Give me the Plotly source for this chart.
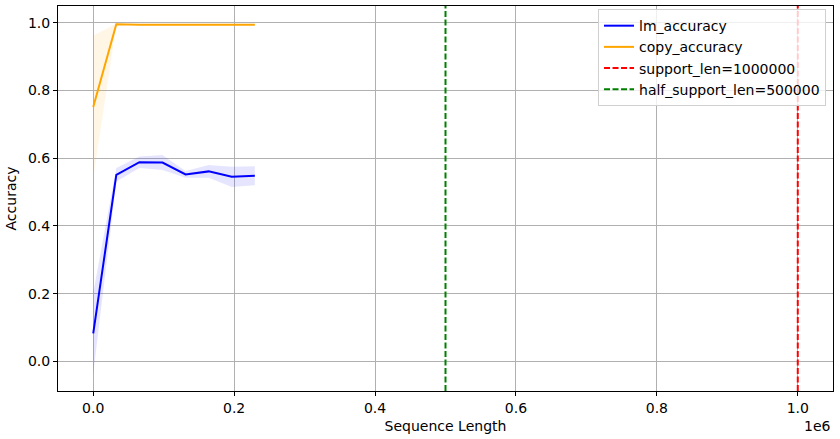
import plotly.graph_objects as go

# sequence lengths and mean/std of the two accuracies
seq_len = [0, 32768, 65536, 98304, 131072, 163840, 196608, 229376]
lm_acc = [0.083, 0.551, 0.588, 0.587, 0.552, 0.561, 0.545, 0.548]
lm_std = [0.12, 0.02, 0.017, 0.022, 0.01, 0.019, 0.03, 0.028]
copy_acc = [0.751, 0.995, 0.994, 0.994, 0.994, 0.994, 0.995, 0.994]
copy_std = [0.21, 0.002, 0.001, 0.001, 0.001, 0.001, 0.001, 0.001]

support_len = 1000000
half_support_len = 500000

xtick_vals = [0, 200000, 400000, 600000, 800000, 1000000]
xtick_text = ["0.0", "0.2", "0.4", "0.6", "0.8", "1.0"]

fnt = dict(family="DejaVu Sans", size=14, color="black")


def band(x, m, s, color):
    up = [a + b for a, b in zip(m, s)]
    lo = [a - b for a, b in zip(m, s)]
    return go.Scatter(x=x + x[::-1], y=up + lo[::-1], fill="toself",
                      fillcolor=color, line=dict(width=0), mode="lines",
                      showlegend=False, hoverinfo="skip")


fig = go.Figure()
fig.add_trace(band(seq_len, lm_acc, lm_std, "rgba(0,0,255,0.1)"))
fig.add_trace(band(seq_len, copy_acc, copy_std, "rgba(255,165,0,0.1)"))
fig.add_trace(go.Scatter(x=seq_len, y=lm_acc, mode="lines", name="lm_accuracy",
                         line=dict(color="blue", width=2)))
fig.add_trace(go.Scatter(x=seq_len, y=copy_acc, mode="lines", name="copy_accuracy",
                         line=dict(color="orange", width=2)))

dash = "6px,2.5px"
fig.add_vline(x=support_len, line=dict(color="red", width=2, dash=dash))
fig.add_vline(x=half_support_len, line=dict(color="green", width=2, dash=dash))
fig.add_trace(go.Scatter(x=[None], y=[None], mode="lines",
                         name="support_len=%d" % support_len,
                         line=dict(color="red", width=2, dash=dash)))
fig.add_trace(go.Scatter(x=[None], y=[None], mode="lines",
                         name="half_support_len=%d" % half_support_len,
                         line=dict(color="green", width=2, dash=dash)))

ax = dict(showline=True, mirror=True, linecolor="black", linewidth=1,
          ticks="outside", ticklen=4, tickcolor="black", showgrid=True,
          gridcolor="#b0b0b0", gridwidth=1, zeroline=False, tickfont=fnt)

fig.update_xaxes(ax, range=[-50000, 1050000], tickvals=xtick_vals, ticktext=xtick_text,
                 title=dict(text="Sequence Length", font=fnt, standoff=6))
fig.update_yaxes(ax, range=[-0.087, 1.049], tickvals=[0, 0.2, 0.4, 0.6, 0.8, 1.0],
                 tickformat=".1f", title=dict(text="Accuracy", font=fnt, standoff=8))

fig.add_annotation(text="1e6", x=1, y=0, xref="paper", yref="paper",
                   xanchor="right", yanchor="top", yshift=-25, showarrow=False, font=fnt)

fig.update_layout(
    width=840, height=439, template="none",
    plot_bgcolor="white", paper_bgcolor="white", font=fnt,
    margin=dict(l=58, r=7, t=6, b=48),
    legend=dict(x=0.991, y=0.992, xanchor="right", yanchor="top",
                bgcolor="rgba(255,255,255,0.8)", bordercolor="#d0d0d0",
                borderwidth=1, font=fnt, itemwidth=30),
)

fig.write_html("out.html", config={"displayModeBar": False},
               post_script="document.body.style.margin='0';")
